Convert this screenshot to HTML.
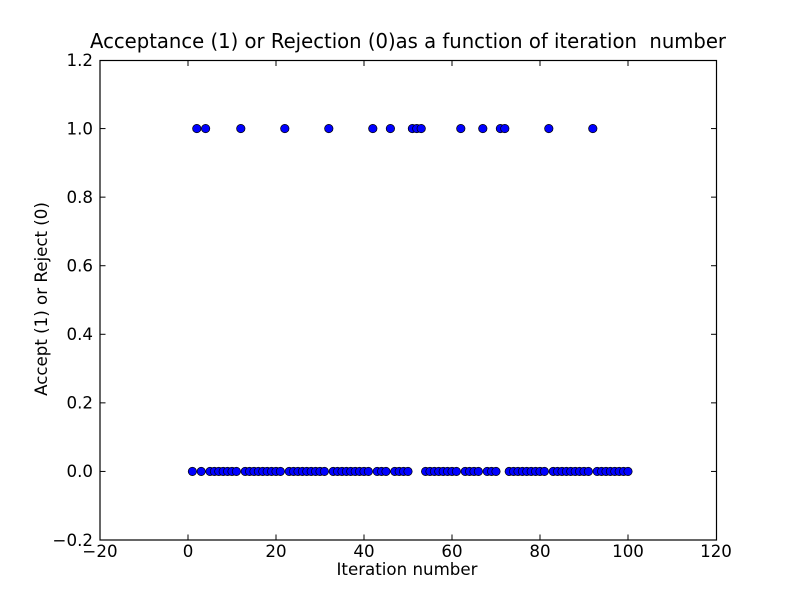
<!DOCTYPE html>
<html>
<head>
<meta charset="utf-8">
<style>
html,body{margin:0;padding:0;background:#fff;}
svg{display:block;}
text{font-family:"DejaVu Sans","Liberation Sans",sans-serif;fill:#000;}
</style>
</head>
<body>
<svg width="796" height="600" viewBox="0 0 796 600" xmlns="http://www.w3.org/2000/svg">
<rect x="0" y="0" width="796" height="600" fill="#fff"/>
<text x="408" y="48" font-size="20" text-anchor="middle" xml:space="preserve" textLength="636" lengthAdjust="spacingAndGlyphs">Acceptance (1) or Rejection (0)as a function of iteration  number</text>
<g id="pts" fill="#0000ff" stroke="#000" stroke-width="0.7"></g>
<rect x="100" y="60.5" width="616.5" height="479.5" fill="none" stroke="#000" stroke-width="1.2"/>
<g stroke="#000" stroke-width="1" id="ticks"></g>
<g font-size="16.67" id="labels"></g>
<text x="407" y="575" font-size="16.67" text-anchor="middle">Iteration number</text>
<text transform="translate(47,299) rotate(-90)" font-size="16.67" text-anchor="middle">Accept (1) or Reject (0)</text>
</svg>
<script>
(function(){
var ns="http://www.w3.org/2000/svg";
var acc=[2,4,12,22,32,42,46,51,52,53,62,67,71,72,82,92];
var pts=document.getElementById("pts");
function X(v){return 188+4.4*v;}
function Y(v){return 471.43-342.857*v;}
for(var n=1;n<=100;n++){
 var c=document.createElementNS(ns,"circle");
 var a=acc.indexOf(n)>=0;
 c.setAttribute("cx",X(n));c.setAttribute("cy",Y(a?1:0));c.setAttribute("r","4.2");
 pts.appendChild(c);
}
var t=document.getElementById("ticks"),l=document.getElementById("labels");
function line(x1,y1,x2,y2){var e=document.createElementNS(ns,"line");e.setAttribute("x1",x1);e.setAttribute("y1",y1);e.setAttribute("x2",x2);e.setAttribute("y2",y2);t.appendChild(e);}
function txt(x,y,s,anc){var e=document.createElementNS(ns,"text");e.setAttribute("x",x);e.setAttribute("y",y);e.setAttribute("text-anchor",anc);e.textContent=s;l.appendChild(e);}
var xs=[-20,0,20,40,60,80,100,120];
xs.forEach(function(v){var x=X(v);
 if(v>-20&&v<120){line(x,540,x,534.5);line(x,60.5,x,66);}
 txt(x,557,(v<0?"\u2212":"")+Math.abs(v),"middle");
});
var ys=[-0.2,0,0.2,0.4,0.6,0.8,1.0,1.2];
ys.forEach(function(v){var y=Y(v);
 if(v>-0.2&&v<1.2){line(100,y,105.5,y);line(716.5,y,711,y);}
 txt(93,y+5.8,(v<0?"\u2212":"")+Math.abs(v).toFixed(1),"end");
});
})();
</script>
</body>
</html>
